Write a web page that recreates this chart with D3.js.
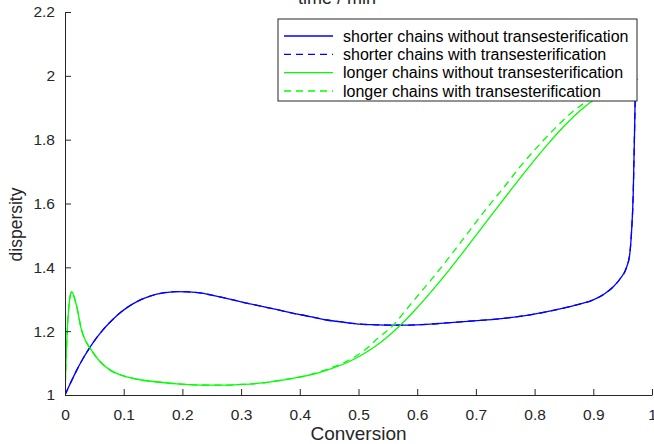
<!DOCTYPE html>
<html>
<head>
<meta charset="utf-8">
<script src="https://cdn.jsdelivr.net/npm/d3@7"></script>
<style>
  html, body { margin: 0; padding: 0; background: #fff; }
  svg { display: block; font-family: "Liberation Sans", Arial, sans-serif; }
</style>
</head>
<body>
<svg id="chart" width="654" height="444"></svg>
<script>
// ---- DATA ----
const xTicks = [0, 0.1, 0.2, 0.3, 0.4, 0.5, 0.6, 0.7, 0.8, 0.9, 1];
const yTicks = [1, 1.2, 1.4, 1.6, 1.8, 2, 2.2];
const xTickLabels = ["0", "0.1", "0.2", "0.3", "0.4", "0.5", "0.6", "0.7", "0.8", "0.9", "1"];
const yTickLabels = ["1", "1.2", "1.4", "1.6", "1.8", "2", "2.2"];

const seriesNames = [
  "shorter chains without transesterification",
  "shorter chains with transesterification",
  "longer chains without transesterification",
  "longer chains with transesterification"
];

// shorter chains, without transesterification (blue, solid)
const shorterWithoutX = [0, 0.01, 0.02, 0.03, 0.043, 0.055, 0.065, 0.075, 0.085, 0.095, 0.105, 0.125, 0.145, 0.165,
  0.19, 0.21, 0.23, 0.25, 0.275, 0.30, 0.332, 0.36, 0.389, 0.42, 0.446, 0.475, 0.503, 0.53, 0.554, 0.58, 0.622,
  0.65, 0.679, 0.735, 0.792, 0.849, 0.875, 0.9, 0.92, 0.934, 0.946, 0.957, 0.962, 0.965, 0.968, 0.970, 0.9715, 0.9725];
const shorterWithoutY = [1.0, 1.04, 1.078, 1.112, 1.151, 1.182, 1.205, 1.225, 1.243, 1.259, 1.273, 1.295, 1.310, 1.319,
  1.324, 1.323, 1.320, 1.313, 1.303, 1.292, 1.279, 1.268, 1.256, 1.245, 1.235, 1.228, 1.222, 1.220, 1.219, 1.219, 1.222,
  1.226, 1.230, 1.238, 1.251, 1.272, 1.284, 1.298, 1.318, 1.339, 1.365, 1.402, 1.44, 1.507, 1.63, 1.80, 1.95, 2.1];

// shorter chains, with transesterification (blue, dashed) - lies exactly on the solid one
const shorterWithX = shorterWithoutX;
const shorterWithY = shorterWithoutY;

// longer chains, without transesterification (green, solid)
const longerWithoutX = [0, 0.002, 0.005, 0.008, 0.0114, 0.015, 0.02, 0.028, 0.035, 0.043, 0.06, 0.077, 0.09, 0.105,
  0.13, 0.162, 0.19, 0.219, 0.25, 0.275, 0.30, 0.332, 0.36, 0.3884, 0.4174, 0.4463, 0.4770, 0.5026, 0.5281, 0.5451,
  0.5707, 0.5963, 0.6218, 0.6508, 0.6780, 0.7070, 0.7359, 0.7632, 0.7922, 0.8211, 0.8484, 0.8773, 0.9063, 0.937, 0.976];
const longerWithoutY = [1, 1.12, 1.24, 1.30, 1.324, 1.31, 1.277, 1.205, 1.17, 1.146, 1.104, 1.078, 1.066, 1.057,
  1.047, 1.040, 1.035, 1.032, 1.031, 1.031, 1.033, 1.037, 1.044, 1.0523, 1.0627, 1.0783, 1.0987, 1.1222, 1.1518, 1.1756,
  1.2178, 1.2664, 1.3194, 1.3832, 1.4471, 1.5167, 1.5861, 1.6511, 1.7187, 1.7829, 1.8389, 1.8909, 1.9315, 1.9607, 1.99];

// longer chains, with transesterification (green, dashed)
const longerWithX = [0, 0.002, 0.005, 0.008, 0.0114, 0.015, 0.02, 0.028, 0.035, 0.043, 0.06, 0.077, 0.09, 0.105,
  0.13, 0.162, 0.19, 0.219, 0.25, 0.275, 0.30, 0.332, 0.36, 0.3884, 0.4157, 0.4429, 0.4719, 0.4957, 0.5179, 0.5315,
  0.5588, 0.5809, 0.6048, 0.6337, 0.6610, 0.6899, 0.7189, 0.7479, 0.7768, 0.8075, 0.8365, 0.8671, 0.8995, 0.9319, 0.9727];
const longerWithY = [1, 1.12, 1.24, 1.30, 1.324, 1.31, 1.277, 1.205, 1.17, 1.146, 1.104, 1.078, 1.066, 1.057,
  1.047, 1.040, 1.035, 1.032, 1.031, 1.031, 1.033, 1.037, 1.044, 1.0523, 1.0627, 1.0783, 1.0987, 1.1222, 1.1518, 1.1756,
  1.2178, 1.2664, 1.3194, 1.3832, 1.4471, 1.5167, 1.5861, 1.6511, 1.7187, 1.7829, 1.8389, 1.8909, 1.9315, 1.9607, 1.993];

// ---- LAYOUT ----
const svg = d3.select("#chart");
const axisColor = "#262626";
const plot = { left: 65, right: 652, top: 12, bottom: 395 };

const x = d3.scaleLinear().domain([0, 1]).range([plot.left, plot.right]);
const y = d3.scaleLinear().domain([1, 2.2]).range([plot.bottom, plot.top]);

svg.append("defs").append("clipPath")
  .attr("id", "plot-clip")
  .append("rect")
  .attr("x", plot.left)
  .attr("y", plot.top)
  .attr("width", plot.right - plot.left)
  .attr("height", plot.bottom - plot.top);

// ---- CURVES ----
const series = [
  { xs: shorterWithoutX, ys: shorterWithoutY, color: "#0000ff", dash: null },
  { xs: shorterWithX, ys: shorterWithY, color: "#0000ff", dash: "7,5" },
  { xs: longerWithoutX, ys: longerWithoutY, color: "#00ff00", dash: null },
  { xs: longerWithX, ys: longerWithY, color: "#00ff00", dash: "7,5" }
];

const line = d3.line()
  .x(d => x(d[0]))
  .y(d => y(d[1]))
  .curve(d3.curveMonotoneX);

const linesG = svg.append("g").attr("clip-path", "url(#plot-clip)");
series.forEach(s => {
  linesG.append("path")
    .datum(s.xs.map((v, i) => [v, s.ys[i]]))
    .attr("d", line)
    .attr("fill", "none")
    .attr("stroke", s.color)
    .attr("stroke-width", 1.3)
    .attr("stroke-dasharray", s.dash);
});

// ---- AXES ----
const xAxis = d3.axisBottom(x)
  .tickValues(xTicks)
  .tickFormat((d, i) => xTickLabels[i])
  .tickSizeInner(-6)
  .tickSizeOuter(0)
  .tickPadding(14);

const yAxis = d3.axisLeft(y)
  .tickValues(yTicks)
  .tickFormat((d, i) => yTickLabels[i])
  .tickSizeInner(-6)
  .tickSizeOuter(0)
  .tickPadding(10);

const gx = svg.append("g")
  .attr("transform", `translate(0,${plot.bottom})`)
  .call(xAxis);
const gy = svg.append("g")
  .attr("transform", `translate(${plot.left},0)`)
  .call(yAxis);

[gx, gy].forEach(g => {
  g.select(".domain").attr("stroke", axisColor).attr("stroke-width", 1);
  g.selectAll(".tick line").attr("stroke", axisColor);
  g.selectAll(".tick text")
    .attr("fill", axisColor)
    .attr("font-size", 15.5)
    .attr("font-family", "'Liberation Sans', Arial, sans-serif");
});

// axis labels
svg.append("text")
  .attr("x", (plot.left + plot.right) / 2)
  .attr("y", 440)
  .attr("text-anchor", "middle")
  .attr("fill", axisColor)
  .attr("font-size", 19)
  .text("Conversion");

svg.append("text")
  .attr("transform", `translate(22,${(plot.top + plot.bottom) / 2 + 21}) rotate(-90)`)
  .attr("text-anchor", "middle")
  .attr("fill", axisColor)
  .attr("font-size", 17.5)
  .text("dispersity");

// title, cut off by the top edge
svg.append("text")
  .attr("x", 337)
  .attr("y", 4)
  .attr("text-anchor", "middle")
  .attr("fill", axisColor)
  .attr("font-size", 18)
  .text("time / min");

// ---- LEGEND ----
const legend = svg.append("g").attr("transform", "translate(278,19)");
legend.append("rect")
  .attr("x", 0)
  .attr("y", 0)
  .attr("width", 359)
  .attr("height", 82)
  .attr("fill", "#fff")
  .attr("stroke", axisColor)
  .attr("stroke-width", 1);

const rowY = d3.scalePoint().domain(seriesNames).range([17, 72]);

seriesNames.forEach((name, i) => {
  const s = series[i];
  legend.append("line")
    .attr("x1", 6)
    .attr("x2", 55)
    .attr("y1", rowY(name))
    .attr("y2", rowY(name))
    .attr("stroke", s.color)
    .attr("stroke-width", 1.3)
    .attr("stroke-dasharray", s.dash);
  legend.append("text")
    .attr("x", 65)
    .attr("y", rowY(name))
    .attr("dy", "0.35em")
    .attr("fill", "#000")
    .attr("font-size", 16)
    .text(name);
});
</script>
</body>
</html>
